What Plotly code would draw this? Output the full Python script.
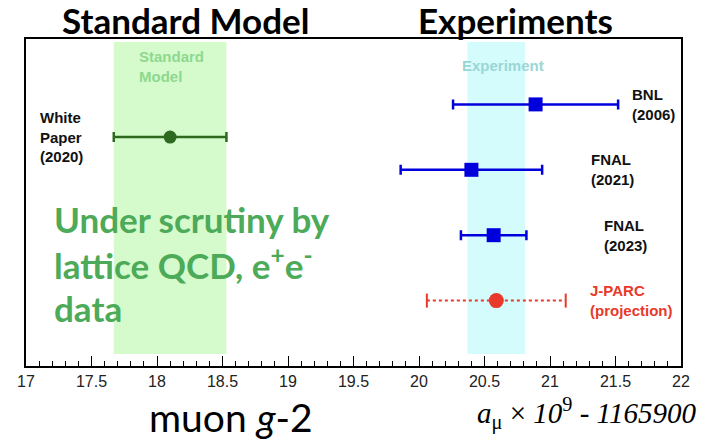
import plotly.graph_objects as go

# ---- data ----
names = ["White Paper (2020)", "BNL (2006)", "FNAL (2021)", "FNAL (2023)", "J-PARC (projection)"]
labels = ["White<br>Paper<br>(2020)", "BNL<br>(2006)", "FNAL<br>(2021)", "FNAL<br>(2023)", "J-PARC<br>(projection)"]
values = [18.10, 20.89, 20.40, 20.57, 20.59]
errors = [0.43, 0.63, 0.54, 0.25, 0.53]
rows = [1, 0, 2, 4, 6]
label_x = [17.09, 21.61, 21.30, 21.40, 21.29]
sm_value, sm_error = 18.10, 0.43
exp_avg, exp_err = 20.59, 0.22
tick_vals = [17, 17.5, 18, 18.5, 19, 19.5, 20, 20.5, 21, 21.5, 22]
tick_text = ["17", "17.5", "18", "18.5", "19", "19.5", "20", "20.5", "21", "21.5", "22"]

W, H = 706, 442
L, R, T, B = 26, 25, 39, 76
PW, PH = W - L - R, H - T - B


def px(xp):
    return (xp - L) / PW


def py(yp):
    return (H - B - yp) / PH


GREEN_DARK = "#2d6a1f"
BLUE = "#0000dd"
RED = "#e8392b"
LBL = "Liberation Sans"

fig = go.Figure()

# White paper
fig.add_trace(go.Scatter(
    x=[values[0]], y=[rows[0]], mode="markers",
    marker=dict(symbol="circle", size=13, color=GREEN_DARK),
    error_x=dict(type="data", array=[errors[0]], color=GREEN_DARK, thickness=2.5, width=5),
    name=names[0], showlegend=False))

# Experiments (blue squares)
for i in (1, 2, 3):
    fig.add_trace(go.Scatter(
        x=[values[i]], y=[rows[i]], mode="markers",
        marker=dict(symbol="square", size=14, color=BLUE),
        error_x=dict(type="data", array=[errors[i]], color=BLUE, thickness=2.5, width=5),
        name=names[i], showlegend=False))

# J-PARC projection: dotted error bar
jv, je, jr = values[4], errors[4], rows[4]
fig.add_trace(go.Scatter(
    x=[jv - je, jv + je], y=[jr, jr], mode="lines+markers",
    line=dict(color=RED, width=2, dash="dot"),
    marker=dict(symbol="line-ns", size=10, line=dict(color=RED, width=2)),
    showlegend=False, hoverinfo="skip"))
fig.add_trace(go.Scatter(
    x=[jv], y=[jr], mode="markers",
    marker=dict(symbol="circle", size=15, color=RED),
    name=names[4], showlegend=False))

# bands
band_y0, band_y1 = 7.63, -1.91
fig.add_shape(type="rect", xref="x", yref="y", x0=sm_value - sm_error, x1=sm_value + sm_error,
              y0=band_y0, y1=band_y1, fillcolor="#d5fbcd", line=dict(width=0), layer="below")
fig.add_shape(type="rect", xref="x", yref="y", x0=exp_avg - exp_err, x1=exp_avg + exp_err,
              y0=band_y0, y1=band_y1, fillcolor="#d5fcfc", line=dict(width=0), layer="below")

ann = []
# band labels
ann.append(dict(x=17.85, y=-1.16, xref="x", yref="y", text="Standard<br>Model", showarrow=False,
                xanchor="left", yanchor="middle", align="left",
                font=dict(family=LBL, size=15, color="#8ed88e", weight="bold")))
ann.append(dict(x=20.31, y=-1.2, xref="x", yref="y", text="Experiment", showarrow=False,
                xanchor="left", yanchor="middle", align="left",
                font=dict(family=LBL, size=15, color="#9ad6d6", weight="bold")))
# point labels
for i in range(5):
    ann.append(dict(x=label_x[i], y=rows[i], xref="x", yref="y", text=labels[i], showarrow=False,
                    xanchor="left", yanchor="middle", align="left",
                    font=dict(family=LBL, size=15, color=RED if i == 4 else "#111111", weight="bold")))

# big titles
ann.append(dict(x=px(185), y=py(20), xref="paper", yref="paper", text="Standard Model", showarrow=False,
                xanchor="center", yanchor="middle",
                font=dict(family="Lato", size=35, color="#000000", weight="bold")))
ann.append(dict(x=px(515), y=py(20), xref="paper", yref="paper", text="Experiments", showarrow=False,
                xanchor="center", yanchor="middle",
                font=dict(family="Lato", size=35, color="#000000", weight="bold")))

# green commentary
for t, yp in [("Under scrutiny by", 219), ("lattice QCD, e<sup>+</sup>e<sup>-</sup>", 263), ("data", 308)]:
    ann.append(dict(x=px(52), y=py(yp), xref="paper", yref="paper", text=t, showarrow=False,
                    xanchor="left", yanchor="middle", align="left",
                    font=dict(family="Lato", size=35, color="#4caa58", weight="bold")))

# bottom texts
ann.append(dict(x=px(231), y=py(417), xref="paper", yref="paper", text="muon <i>g</i>-2", showarrow=False,
                xanchor="center", yanchor="middle",
                font=dict(family="Lato", size=39, color="#000000")))
ann.append(dict(x=px(698), y=py(413), xref="paper", yref="paper",
                text="<i>a</i><sub>μ</sub> × <i>10</i><sup>9</sup><i> - 1165900</i>", showarrow=False,
                xanchor="right", yanchor="middle",
                font=dict(family="Liberation Serif", size=29, color="#000000")))

fig.update_layout(
    width=W, height=H, margin=dict(l=L, r=R, t=T, b=B),
    paper_bgcolor="white", plot_bgcolor="white",
    annotations=ann, showlegend=False,
    xaxis=dict(range=[17, 22], tickvals=tick_vals, ticktext=tick_text, ticks="inside", ticklen=10,
               tickwidth=1, tickcolor="#000", showline=True, linecolor="#000", linewidth=1.5, mirror=True,
               showgrid=False, zeroline=False, automargin=False,
               tickfont=dict(family="Liberation Sans", size=16, color="#222"),
               minor=dict(dtick=0.1, ticks="inside", ticklen=5, tickcolor="#000", showgrid=False)),
    yaxis=dict(range=[8, -2], showticklabels=False, ticks="", showline=True, linecolor="#000",
               linewidth=1.5, mirror=True, showgrid=False, zeroline=False, automargin=False),
)

fig.write_html("out.html", config={"displayModeBar": False},
               post_script="document.body.style.margin='0px';")
